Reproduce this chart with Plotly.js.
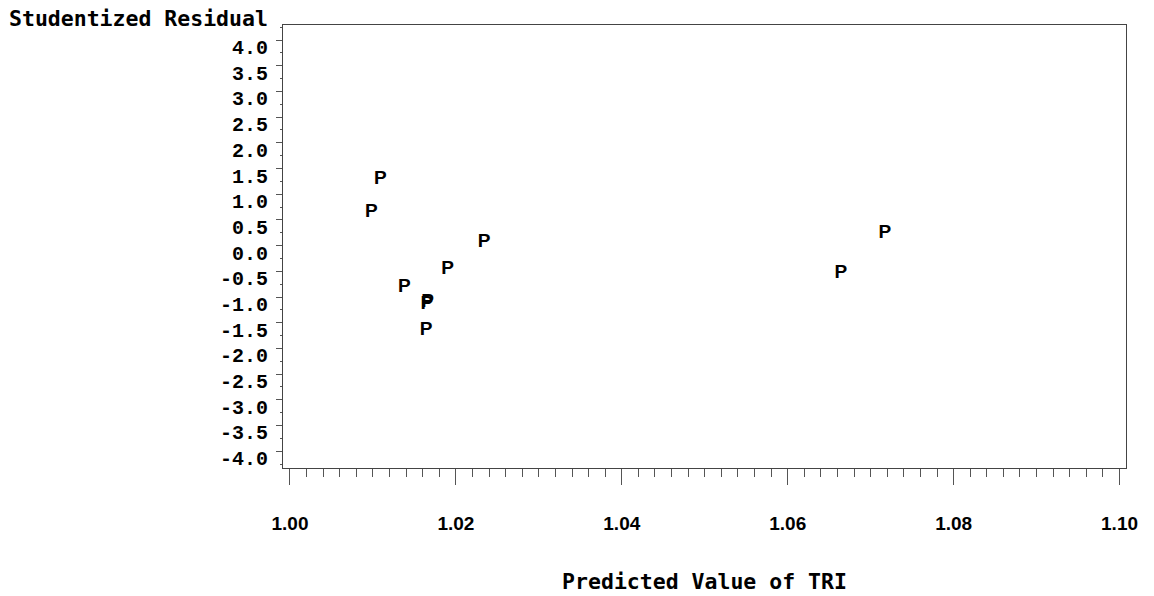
<!DOCTYPE html>
<html>
<head>
<meta charset="utf-8">
<script src="https://cdn.plot.ly/plotly-3.0.1.min.js"></script>
<style>
  html, body { margin: 0; padding: 0; background: #ffffff; }
  #chart { width: 1154px; height: 596px; }
</style>
</head>
<body>
<div id="chart"></div>
<script>
// Data
const predictedTRI = [1.0109, 1.0098, 1.0234, 1.0190, 1.0138, 1.0166, 1.0165, 1.0164, 1.0717, 1.0664];
const studentizedResidual = [1.47, 0.83, 0.25, -0.27, -0.63, -0.91, -0.95, -1.46, 0.43, -0.35];
const plotSymbol = ['P', 'P', 'P', 'P', 'P', 'P', 'P', 'P', 'P', 'P'];

const yTickValues = [4.0, 3.5, 3.0, 2.5, 2.0, 1.5, 1.0, 0.5, 0.0, -0.5, -1.0, -1.5, -2.0, -2.5, -3.0, -3.5, -4.0];
const yTickLabels = ['4.0', '3.5', '3.0', '2.5', '2.0', '1.5', '1.0', '0.5', '0.0', '-0.5', '-1.0', '-1.5', '-2.0', '-2.5', '-3.0', '-3.5', '-4.0'];
const xTickValues = [1.00, 1.02, 1.04, 1.06, 1.08, 1.10];
const xTickLabels = ['1.00', '1.02', '1.04', '1.06', '1.08', '1.10'];

const yTitle = 'Studentized Residual';
const xTitle = 'Predicted Value of TRI';

const yTickFont = { family: 'Liberation Mono, DejaVu Sans Mono, monospace', size: 20, color: '#000000', weight: 'bold' };
const xTickFont = { family: 'Liberation Sans, Arial, sans-serif', size: 19, color: '#000000', weight: 'bold' };
const monoFont = { family: 'DejaVu Sans Mono, Liberation Mono, monospace', size: 21.5, color: '#000000', weight: 'bold' };

const trace = {
  type: 'scatter',
  mode: 'text',
  x: predictedTRI,
  y: studentizedResidual,
  text: plotSymbol,
  textposition: 'bottom center',
  textfont: { family: 'Liberation Sans, Arial, sans-serif', size: 19, color: '#000000', weight: 'bold' },
  marker: { size: 0 },
  hoverinfo: 'skip',
  showlegend: false
};

const layout = {
  width: 1154,
  height: 596,
  paper_bgcolor: '#ffffff',
  plot_bgcolor: '#ffffff',
  margin: { l: 283, r: 28, t: 25, b: 128, pad: 0 },
  showlegend: false,
  title: {
    text: yTitle,
    font: monoFont,
    x: 9 / 1154,
    xanchor: 'left',
    xref: 'container',
    y: 1 - 11 / 596,
    yref: 'container',
    yanchor: 'top',
    automargin: false
  },
  xaxis: {
    range: [0.99916, 1.10078],
    tickmode: 'array',
    tickvals: xTickValues,
    ticktext: xTickLabels,
    ticks: 'outside',
    ticklen: 16,
    tickwidth: 1,
    tickcolor: '#555555',
    ticklabelstandoff: 22,
    tickfont: xTickFont,
    minor: { dtick: 0.002, tick0: 1.0, ticks: 'outside', ticklen: 8, tickwidth: 1, tickcolor: '#555555', showgrid: false },
    showgrid: false,
    zeroline: false,
    showline: true,
    mirror: true,
    linecolor: '#444444',
    linewidth: 1,
    automargin: false,
    title: { text: xTitle, font: monoFont, standoff: 41 }
  },
  yaxis: {
    range: [-4.327, 4.292],
    tickmode: 'array',
    tickvals: yTickValues,
    ticktext: yTickLabels,
    ticks: 'outside',
    ticklen: 6,
    tickwidth: 1,
    tickcolor: '#555555',
    ticklabelshift: 7,
    ticklabelstandoff: 4,
    tickfont: yTickFont,
    minor: { dtick: 0.25, tick0: 0, ticks: 'outside', ticklen: 2, tickwidth: 1, tickcolor: '#555555', showgrid: false },
    showgrid: false,
    zeroline: false,
    showline: true,
    mirror: true,
    linecolor: '#444444',
    linewidth: 1,
    automargin: false
  }
};

Plotly.newPlot('chart', [trace], layout, { staticPlot: true, displayModeBar: false });
</script>
</body>
</html>
